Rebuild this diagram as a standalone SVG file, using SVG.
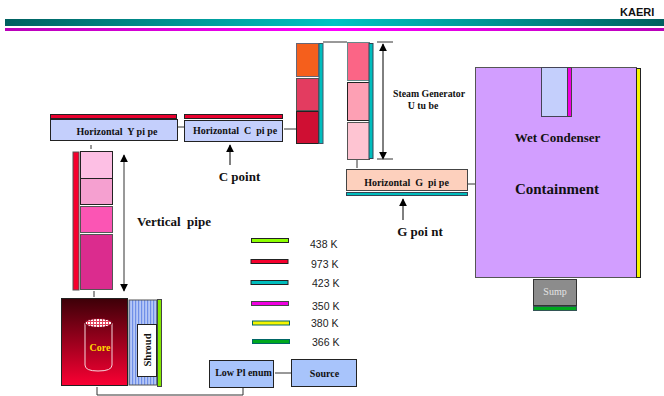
<svg xmlns="http://www.w3.org/2000/svg" width="664" height="396" viewBox="0 0 664 396">
<style>
.s{font-family:"Liberation Serif",serif;font-weight:bold;fill:#111}
.a{font-family:"Liberation Sans",sans-serif;fill:#222;font-size:10.500px}
.b{stroke:#222;stroke-width:1}
.l{stroke:#333;stroke-width:1;fill:none}
</style>
<defs>
<linearGradient id="bar" x1="0" x2="1" y1="0" y2="0"><stop offset="0" stop-color="#005f5f"/><stop offset=".5" stop-color="#00c4c4"/><stop offset="1" stop-color="#005f5f"/></linearGradient>
<linearGradient id="mag" x1="0" x2="1" y1="0" y2="0"><stop offset="0" stop-color="#b800b8"/><stop offset=".5" stop-color="#ff00ff"/><stop offset="1" stop-color="#b800b8"/></linearGradient>
<linearGradient id="core" x1="0" x2="0" y1="0" y2="1"><stop offset="0" stop-color="#3d0008"/><stop offset="1" stop-color="#fa0033"/></linearGradient>
<pattern id="shr" width="3" height="3" patternUnits="userSpaceOnUse"><rect width="3" height="3" fill="#b6c8f6"/><rect width="1.2" height="3" fill="#6f8fe8"/></pattern>
<pattern id="chk" width="3" height="3" patternUnits="userSpaceOnUse"><rect width="3" height="3" fill="#fff"/><rect width="1" height="3" fill="#e0405a"/><rect width="3" height="1" fill="#e0405a"/></pattern>
<marker id="ah" viewBox="0 0 10 10" refX="9" refY="5" markerWidth="8.500" markerHeight="8" markerUnits="userSpaceOnUse" orient="auto-start-reverse"><path d="M0 0L10 5L0 10z" fill="#000"/></marker>
</defs>
<g id="header">
<text x="620" y="16" style="font-family:'Liberation Sans',sans-serif;font-weight:bold;font-size:11px;fill:#111">KAERI</text>
<rect x="5" y="19" width="659" height="7" fill="url(#bar)"/>
<rect x="5" y="28" width="659" height="3" fill="url(#mag)"/>
</g>
<g id="connectors">
<path class="l" d="M178 127H184M284 129H296M91 145V149M94 291V297M97 387V395H243V387M275 373H291M323 42H347M357 160V168M468 184H475"/>
<path d="M230 165V145" stroke="#000" stroke-width="1" marker-end="url(#ah)"/>
<path d="M124 155V291" stroke="#333" stroke-width="1" marker-start="url(#ah)" marker-end="url(#ah)"/>
<path d="M383 44V159" stroke="#000" stroke-width="1" marker-start="url(#ah)" marker-end="url(#ah)"/>
<path class="l" d="M377 42H393M377 159H393"/>
<path d="M403 220V199" stroke="#000" stroke-width="1" marker-end="url(#ah)"/>
</g>
<g id="horizontal-y-pipe">
<rect x="50.500" y="114.500" width="126" height="4" fill="#e8002e" class="b"/>
<rect x="50.500" y="119.500" width="127" height="21" fill="#c4cffc" class="b"/>
<text x="117" y="135" text-anchor="middle" class="s" font-size="10" xml:space="preserve">Horizontal  Y pi pe</text>
</g>
<g id="horizontal-c-pipe">
<rect x="184.500" y="114.500" width="98" height="4" fill="#e8002e" class="b"/>
<rect x="184.500" y="120.500" width="98" height="21" fill="#c4cffc" class="b"/>
<text x="235" y="134" text-anchor="middle" class="s" font-size="10" xml:space="preserve">Horizontal  C  pi pe</text>
</g>
<g id="c-point"><text x="239.500" y="181" text-anchor="middle" class="s" font-size="13" xml:space="preserve">C point</text></g>
<g id="vertical-pipe">
<rect x="73" y="152" width="6" height="138" fill="#f5002d" stroke="#555"/>
<rect x="80.500" y="151.500" width="32" height="27" fill="#fdbfe4" class="b"/>
<rect x="80.500" y="178.500" width="32" height="26" fill="#f5a0d0" class="b"/>
<rect x="80.500" y="206.500" width="32" height="26" fill="#fb55b4" stroke="#555"/>
<rect x="80.500" y="234.500" width="32" height="55" fill="#db2c8e" stroke="#555"/>
<text x="137" y="226" class="s" font-size="13" xml:space="preserve">Vertical  pipe</text>
</g>
<g id="core">
<rect x="61.500" y="298.500" width="66" height="87" fill="url(#core)" stroke="#222"/>
<path d="M85 323V365Q85 371 98 371Q112 371 112 365V323" fill="none" stroke="#f6d6dc"/>
<ellipse cx="98.500" cy="323" rx="13.500" ry="4.500" fill="url(#chk)" stroke="#7a0018"/>
<text x="100" y="351" text-anchor="middle" class="s" font-size="10" style="fill:#ffd800">Core</text>
</g>
<g id="shroud">
<rect x="129" y="300" width="28" height="85" fill="url(#shr)" stroke="#555"/>
<rect x="137.500" y="324.500" width="19" height="52" fill="#fff" class="b"/>
<text transform="translate(151,350) rotate(-90)" text-anchor="middle" class="s" font-size="10.500">Shroud</text>
<rect x="157.500" y="299.500" width="4" height="87" fill="#82e800" stroke="#444"/>
</g>
<g id="low-plenum">
<rect x="209.500" y="360.500" width="64" height="27" fill="#a8c4fb" class="b"/>
<text x="243.500" y="376" text-anchor="middle" class="s" font-size="10" xml:space="preserve">Low Pl enum</text>
</g>
<g id="source">
<rect x="291.500" y="359.500" width="65" height="27" fill="#a8c4fb" class="b"/>
<text x="324.500" y="377" text-anchor="middle" class="s" font-size="10">Source</text>
</g>
<g id="sg-left">
<rect x="296.500" y="43.500" width="22" height="33" fill="#f55f1c" stroke="#667"/>
<rect x="296.500" y="78.500" width="22" height="32" fill="#e33c60" stroke="#555"/>
<rect x="296.500" y="111.500" width="22" height="32" fill="#cf0f33" class="b"/>
<rect x="319" y="43.500" width="4" height="100" fill="#00bdbd" stroke="#456"/>
</g>
<g id="sg-right">
<rect x="347.500" y="42.500" width="22" height="38" fill="#fb6586" stroke="#688"/>
<rect x="347.500" y="82.500" width="22" height="38" fill="#fda0b4" class="b"/>
<rect x="347.500" y="122.500" width="22" height="37" fill="#fec4d2" stroke="#555"/>
<rect x="369" y="43.500" width="4" height="115" fill="#00bdbd" stroke="#345"/>
<text x="429" y="97" text-anchor="middle" class="s" font-size="9.800">Steam Generator</text>
<text x="423" y="109" text-anchor="middle" class="s" font-size="9.800" xml:space="preserve">U tu be</text>
</g>
<g id="horizontal-g-pipe">
<rect x="346.500" y="169.500" width="121" height="21" fill="#fdd0bd" stroke="#444"/>
<rect x="346.500" y="192.500" width="121" height="3" fill="#00bdbd" stroke="#345"/>
<text x="406.500" y="186" text-anchor="middle" class="s" font-size="10" xml:space="preserve">Horizontal  G  pi pe</text>
</g>
<g id="g-point"><text x="420" y="236" text-anchor="middle" class="s" font-size="13" xml:space="preserve">G poi nt</text></g>
<g id="containment">
<rect x="475.500" y="67.500" width="161" height="210" fill="#d29eff" stroke="#555"/>
<rect x="636.500" y="68.500" width="4" height="209" fill="#f5f500" class="b"/>
<rect x="541.500" y="67.500" width="26" height="49" fill="#c4cffc" stroke="#445"/>
<rect x="567.500" y="67.500" width="4" height="49" fill="#f000e0" stroke="#444"/>
<text x="557.500" y="142" text-anchor="middle" class="s" font-size="13">Wet Condenser</text>
<text x="557" y="194" text-anchor="middle" class="s" font-size="15">Containment</text>
</g>
<g id="sump">
<rect x="533.500" y="279.500" width="43" height="26" fill="#8c8c8c" stroke="#333"/>
<rect x="533.500" y="306.500" width="43" height="4" fill="#00a81e" stroke="#355"/>
<text x="555" y="295" text-anchor="middle" font-family="Liberation Serif,serif" font-size="10" fill="#e4e4e4">Sump</text>
</g>
<g id="legend">
<rect x="251.500" y="238.500" width="37" height="4" fill="#8cff00" class="b"/><text x="310" y="248" class="a">438 K</text>
<rect x="251" y="259.500" width="37" height="4" fill="#f5002d" class="b"/><text x="311" y="268" class="a">973 K</text>
<rect x="251" y="280.500" width="37" height="4" fill="#00bdbd" class="b"/><text x="312" y="287" class="a">423 K</text>
<rect x="251.500" y="301.500" width="37" height="4" fill="#f000e0" stroke="#444"/><text x="312" y="310" class="a">350 K</text>
<rect x="252.500" y="321" width="37" height="4" fill="#f5f500" stroke="#066"/><text x="311" y="327" class="a">380 K</text>
<rect x="252.500" y="339.500" width="37" height="4" fill="#00a81e" stroke="#066"/><text x="312" y="346" class="a">366 K</text>
</g>
</svg>
